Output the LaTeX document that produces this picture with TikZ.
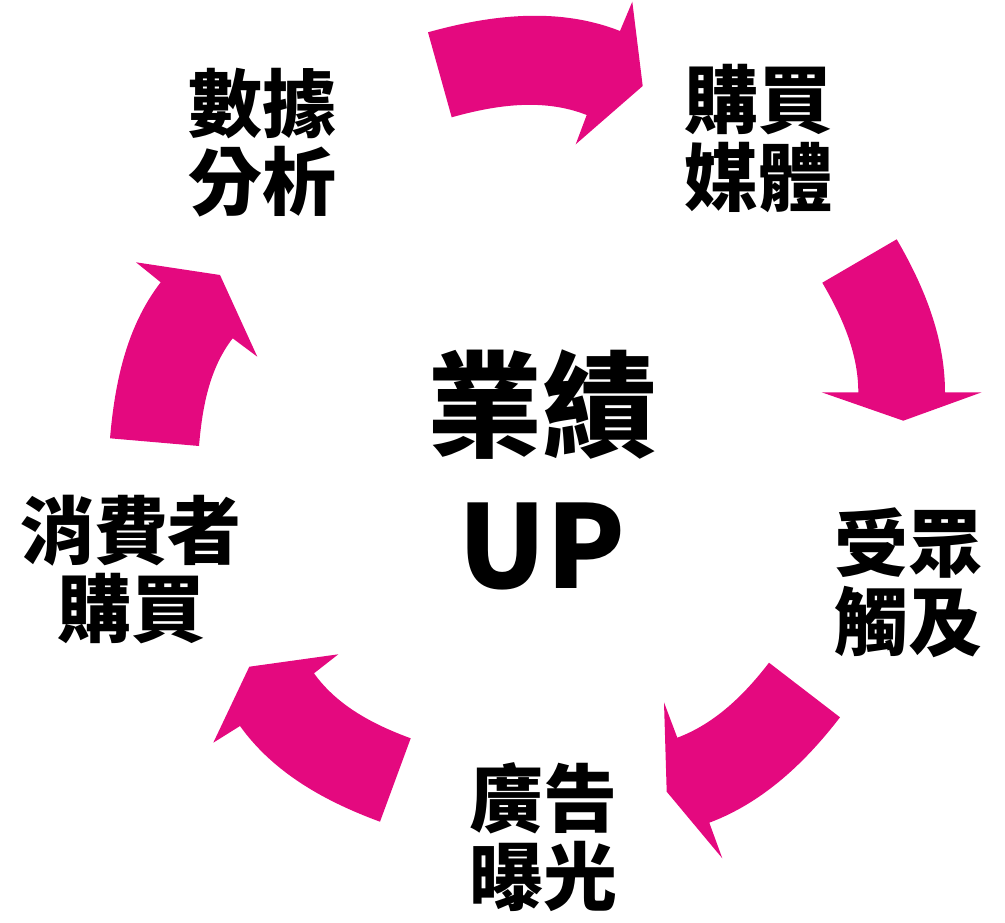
\documentclass[tikz,border=0pt]{standalone}
\usepackage{fontspec}
\newfontfamily\cjk{Noto Sans CJK TC}
\definecolor{arrowpink}{RGB}{228,9,127}
\tikzset{
  blockarrow/.style={fill=arrowpink, draw=none},
  lbl/.style={font=\cjk\bfseries\fontsize{74}{78}\selectfont, align=center, inner sep=0pt},
  hub/.style={font=\cjk\bfseries\fontsize{115}{140}\selectfont, align=center, inner sep=0pt}
}
\begin{document}
\begin{tikzpicture}[x=1pt,y=-1pt]
\useasboundingbox (0,0) rectangle (1005,923);
% top arrow
\fill[blockarrow] (428,32.3) .. controls +(-15.6:64.3) and +(-158.5:66.9) .. (620,31)
  -- (632.3,1.7) -- (642.7,86) -- (575.7,144.3) -- (586.7,115)
  .. controls +(-158.5:47.2) and +(-15.6:45.1) .. (451.7,117.3) -- cycle;
% right arrow
\fill[blockarrow] (896.7,239.3) .. controls +(59.74:53.8) and +(-90:55.0) .. (945,392.3)
  -- (981.7,392.3) -- (903.3,420.7) -- (821.7,392.3) -- (858.3,392.3)
  .. controls +(-90:39.7) and +(59.74:38.5) .. (822.3,282.7) -- cycle;
% bottom-right arrow
\fill[blockarrow] (840,717.3) .. controls +(127.56:56.3) and +(-20.54:57.7) .. (709.3,822.7)
  -- (722.3,858.3) -- (666.7,791.7) -- (664,702.3) -- (677.3,737.7)
  .. controls +(-20.5:40.7) and +(127.57:39.6) .. (769,662.7) -- cycle;
% bottom-left arrow
\fill[blockarrow] (380,821.7) .. controls +(200.2:56.8) and +(54.39:58.7) .. (240,726)
  -- (213.3,742.7) -- (249.3,666.7) -- (338.3,654.3) -- (314,673.3)
  .. controls +(54.32:40.5) and +(200.19:39.0) .. (410.7,738.3) -- cycle;
% left arrow
\fill[blockarrow] (110,438.3) .. controls +(-85.06:54.7) and +(127.77:56.6) .. (160.7,282.3)
  -- (136,262.3) -- (220,275) -- (257.3,356.7) -- (232.7,338.3)
  .. controls +(127.72:39.1) and +(-85.07:37.6) .. (199,446) -- cycle;
% labels
\node[lbl] (analysis) at (262,143) {數據\\分析};
\node[lbl] (media) at (758,138) {購買\\媒體};
\node[lbl] (reach) at (908,583) {受眾\\觸及};
\node[lbl] (exposure) at (543,837) {廣告\\曝光};
\node[lbl] (purchase) at (131,570) {消費者\\購買};
\node[hub] (center) at (542,470) {業績\\UP};
\end{tikzpicture}
\end{document}
